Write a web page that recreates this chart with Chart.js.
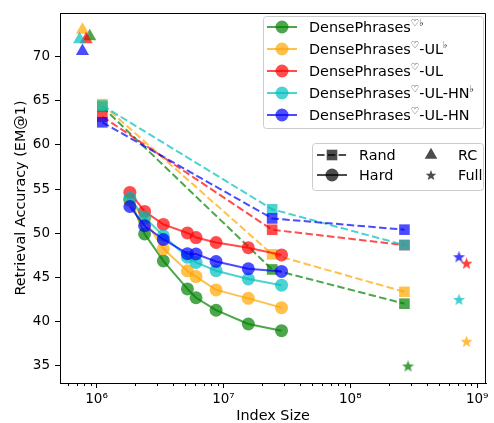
<!DOCTYPE html>
<html>
<head>
<meta charset="utf-8">
<script src="https://cdn.jsdelivr.net/npm/chart.js@4.4.1/dist/chart.umd.min.js"></script>
<style>
  html, body { margin: 0; padding: 0; background: #fff; }
</style>
</head>
<body>
<canvas id="chart" width="494" height="423"></canvas>
<script>
// index sizes and EM@1
const modelNames = ['DensePhrases', 'DensePhrases', 'DensePhrases', 'DensePhrases', 'DensePhrases'];
const modelSuffix = [
  [['♡♭', true]],
  [['♡', true], ['-UL', false], ['♭', true]],
  [['♡', true], ['-UL', false]],
  [['♡', true], ['-UL-HN', false], ['♭', true]],
  [['♡', true], ['-UL-HN', false]],
];
const modelColors = ['0,128,0', '255,165,0', '255,0,0', '0,191,191', '0,0,255'];

const hardSizes = [1.83e6, 2.39e6, 3.36e6, 5.2e6, 6.08e6, 8.75e6, 1.57e7, 2.87e7];
const hardGreen = [53.8, 49.93, 46.88, 43.71, 42.71, 41.3, 39.74, 38.99];
const hardOrange = [53.7, 51.6, 48.24, 45.75, 45.1, 43.6, 42.64, 41.59];
const hardRed = [54.62, 52.47, 51.0, 50.04, 49.52, 48.96, 48.37, 47.55];
const hardCyan = [53.95, 51.8, 49.72, 47.3, 46.7, 45.77, 44.83, 44.13];
const hardBlue = [53.03, 50.85, 49.3, 47.7, 47.66, 46.81, 45.99, 45.69];

const randSizes = [1.11e6, 2.42e7, 2.67e8];
const randGreen = [64.3, 45.91, 42.04];
const randOrange = [64.6, 47.62, 43.38];
const randRed = [63.2, 50.4, 48.67];
const randCyan = [64.45, 52.72, 48.67];
const randBlue = [62.55, 51.68, 50.41];

// one point per model (green, orange, red, cyan, blue)
const rcSizes = [8.83e5, 7.74e5, 8.28e5, 7.35e5, 7.74e5];
const rcScores = [72.27, 73.0, 71.93, 71.93, 70.6];
const fullSizes = [2.85e8, 8.24e8, 8.24e8, 7.18e8, 7.18e8];
const fullScores = [35.0, 37.79, 46.62, 42.53, 47.36];

const xTicks = [1e6, 1e7, 1e8, 1e9];
const yTicks = [35, 40, 45, 50, 55, 60, 65, 70];

const hardSeries = [hardGreen, hardOrange, hardRed, hardCyan, hardBlue];
const randSeries = [randGreen, randOrange, randRed, randCyan, randBlue];

const FONT = "'DejaVu Sans', sans-serif";
const rgba = (c, a) => `rgba(${c},${a})`;

function starImage(color, r) {
  const size = Math.ceil(r * 2) + 4;
  const c = document.createElement('canvas');
  c.width = c.height = size;
  const g = c.getContext('2d');
  g.translate(size / 2, size / 2 + r * 0.1);
  g.beginPath();
  for (let i = 0; i < 10; i++) {
    const rr = i % 2 ? r * 0.42 : r;
    const a = -Math.PI / 2 + i * Math.PI / 5;
    g.lineTo(rr * Math.cos(a), rr * Math.sin(a));
  }
  g.closePath();
  g.fillStyle = color;
  g.fill();
  return c;
}

const pts = (xs, ys) => xs.map((x, i) => ({ x, y: ys[i] }));

const datasets = [];
modelColors.forEach((c, i) => {
  datasets.push({
    data: pts(hardSizes, hardSeries[i]),
    borderColor: rgba(c, 0.7), backgroundColor: rgba(c, 0.7),
    borderWidth: 2, pointRadius: 6.5, pointBorderWidth: 0, pointStyle: 'circle',
  });
  datasets.push({
    data: pts(randSizes, randSeries[i]),
    borderColor: rgba(c, 0.7), backgroundColor: rgba(c, 0.7),
    borderWidth: 2, borderDash: [7.5, 3.3], pointRadius: 7.5, pointBorderWidth: 0, pointStyle: 'rect',
  });
  datasets.push({
    data: [{ x: rcSizes[i], y: rcScores[i] }],
    showLine: false, backgroundColor: rgba(c, 0.7),
    pointRadius: 7.6, pointBorderWidth: 0, pointStyle: 'triangle',
  });
  datasets.push({
    data: [{ x: fullSizes[i], y: fullScores[i] }],
    showLine: false, pointStyle: starImage(rgba(c, 0.75), 6.3), pointRadius: 7,
  });
});
datasets.forEach((d, k) => { d.order = -k; d.tension = 0; d.fill = false; });

const supLabel = n => '10' + { 6: '⁶', 7: '⁷', 8: '⁸', 9: '⁹' }[n];

function drawRich(ctx, parts, x, baseline) {
  let cx = x;
  parts.forEach(([t, sup]) => {
    ctx.font = sup ? `9.5px ${FONT}` : `14.4px ${FONT}`;
    ctx.fillText(t, cx, sup ? baseline - 6.5 : baseline);
    cx += ctx.measureText(t).width;
  });
}

function roundBox(ctx, x, y, w, h, r) {
  ctx.beginPath();
  ctx.roundRect(x + 0.5, y + 0.5, w, h, r);
  ctx.fillStyle = 'rgba(255,255,255,0.8)';
  ctx.fill();
  ctx.strokeStyle = '#cccccc';
  ctx.lineWidth = 1;
  ctx.stroke();
}

const framePlugin = {
  id: 'frame',
  afterDatasetsDraw(chart) {
    const { ctx, chartArea: a, scales: { x } } = chart;
    ctx.save();
    ctx.strokeStyle = '#000';
    ctx.lineWidth = 1;
    ctx.beginPath();
    const t = Math.round(a.top) + 0.5, r = Math.round(a.right) - 0.5;
    ctx.moveTo(a.left, t); ctx.lineTo(r, t); ctx.lineTo(r, a.bottom);
    // minor log ticks
    for (let n = 5; n <= 8; n++) {
      for (let k = 2; k <= 9; k++) {
        const v = k * Math.pow(10, n);
        if (v <= x.min || v >= x.max) continue;
        const px = Math.round(x.getPixelForValue(v)) + 0.5;
        ctx.moveTo(px, a.bottom);
        ctx.lineTo(px, a.bottom + 3);
      }
    }
    ctx.stroke();
    ctx.restore();
  },
  afterDraw(chart) {
    const { ctx } = chart;
    ctx.save();
    // model legend
    roundBox(ctx, 263, 16, 220, 112, 3);
    modelColors.forEach((c, i) => {
      const y = 27 + i * 22;
      ctx.strokeStyle = rgba(c, 0.7);
      ctx.lineWidth = 2;
      ctx.beginPath(); ctx.moveTo(267, y); ctx.lineTo(297, y); ctx.stroke();
      ctx.fillStyle = rgba(c, 0.7);
      ctx.beginPath(); ctx.arc(282, y, 6.5, 0, Math.PI * 2); ctx.fill();
      ctx.fillStyle = '#000';
      ctx.textBaseline = 'alphabetic';
      ctx.textAlign = 'left';
      drawRich(ctx, [[modelNames[i], false], ...modelSuffix[i]], 309, y + 5.3);
    });
    // marker legend
    roundBox(ctx, 312, 143, 171, 47, 3);
    const g = 'rgba(0,0,0,0.7)';
    ctx.strokeStyle = g; ctx.fillStyle = g; ctx.lineWidth = 2;
    ctx.setLineDash([7.5, 3.3]);
    ctx.beginPath(); ctx.moveTo(317, 155); ctx.lineTo(347, 155); ctx.stroke();
    ctx.setLineDash([]);
    ctx.fillRect(332 - 5.3, 155 - 5.3, 10.6, 10.6);
    ctx.beginPath(); ctx.moveTo(317, 175); ctx.lineTo(347, 175); ctx.stroke();
    ctx.beginPath(); ctx.arc(332, 175, 6.5, 0, Math.PI * 2); ctx.fill();
    ctx.beginPath();
    ctx.moveTo(431, 155 - 7.3); ctx.lineTo(431 + 6.3, 155 + 3.65); ctx.lineTo(431 - 6.3, 155 + 3.65);
    ctx.closePath(); ctx.fill();
    const s = starImage(g, 5.6);
    ctx.drawImage(s, 431 - s.width / 2, 175 - s.height / 2);
    ctx.fillStyle = '#000';
    ctx.font = `14.4px ${FONT}`;
    ctx.textAlign = 'left';
    ctx.textBaseline = 'alphabetic';
    ctx.fillText('Rand', 359, 160);
    ctx.fillText('Hard', 359, 180);
    ctx.fillText('RC', 458, 160);
    ctx.fillText('Full', 458, 180);
    ctx.restore();
  }
};

new Chart(document.getElementById('chart'), {
  type: 'line',
  data: { datasets },
  options: {
    responsive: false,
    animation: false,
    devicePixelRatio: 1,
    layout: { padding: { left: 0, right: 3, top: 8, bottom: 0 } },
    plugins: { legend: { display: false }, tooltip: { enabled: false } },
    scales: {
      x: {
        type: 'logarithmic',
        min: 5.15e5,
        max: 1.173e9,
        afterBuildTicks: s => { s.ticks = xTicks.map(v => ({ value: v, major: true })); },
        afterFit: s => { s.height = 40; s.paddingLeft = 0; s.paddingRight = 0; },
        grid: { drawOnChartArea: false, tickLength: 5, tickColor: '#000', tickWidth: 1 },
        border: { color: '#000', width: 1 },
        ticks: {
          autoSkip: false, maxRotation: 0, padding: 3, color: '#000',
          font: { family: FONT, size: 13.5 },
          callback: v => supLabel(Math.round(Math.log10(v))),
        },
        title: { display: true, text: 'Index Size', color: '#000', font: { family: FONT, size: 14.4, lineHeight: 1 }, padding: 0 },
      },
      y: {
        min: 33.07,
        max: 74.9,
        afterBuildTicks: s => { s.ticks = yTicks.map(v => ({ value: v })); },
        afterFit: s => { s.width = 60; },
        grid: { drawOnChartArea: false, tickLength: 5, tickColor: '#000', tickWidth: 1 },
        border: { color: '#000', width: 1 },
        ticks: { padding: 5, color: '#000', font: { family: FONT, size: 13.5 } },
        title: { display: true, text: 'Retrieval Accuracy (EM@1)', color: '#000', font: { family: FONT, size: 14.4, lineHeight: 1 }, padding: { top: 13.6, bottom: 0 } },
      },
    },
  },
  plugins: [framePlugin],
});
</script>
</body>
</html>
